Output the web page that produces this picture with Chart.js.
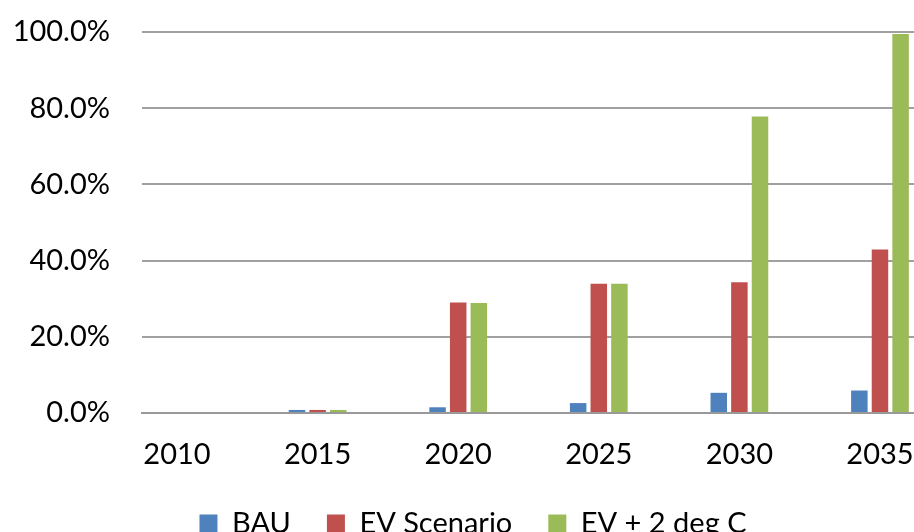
<!DOCTYPE html>
<html>
<head>
<meta charset="utf-8">
<script src="https://cdn.jsdelivr.net/npm/chart.js@4/dist/chart.umd.min.js"></script>
<style>
  html, body { margin: 0; padding: 0; background: #fff; overflow: hidden; }
  #wrap { position: relative; width: 914px; height: 548px; }
</style>
</head>
<body>
<div id="wrap"><canvas id="c"></canvas></div>
<script>
// ---- data ----
const years = [2010, 2015, 2020, 2025, 2030, 2035];
const seriesNames = ['BAU', 'EV Scenario', 'EV + 2 deg C'];
const bau = [0.000, 0.008, 0.015, 0.026, 0.053, 0.059];
const evScenario = [0.000, 0.008, 0.290, 0.339, 0.343, 0.429];
const ev2deg = [0.000, 0.008, 0.289, 0.339, 0.778, 0.995];
const yTicks = [0, 0.2, 0.4, 0.6, 0.8, 1.0];

const colors = ['#4F81BD', '#C0504D', '#9BBB59'];
const FONT = 'Lato, "Open Sans", sans-serif';

function pts(vals) { return years.map((y, i) => ({ x: y, y: vals[i] })); }

const datasets = [bau, evScenario, ev2deg].map((vals, i) => ({
  label: seriesNames[i],
  data: pts(vals),
  backgroundColor: colors[i],
  borderWidth: 0,
  categoryPercentage: 0.44,
  barPercentage: 0.8
}));

new Chart(document.getElementById('c'), {
  type: 'bar',
  data: { datasets },
  options: {
    responsive: true,
    maintainAspectRatio: false,
    animation: false,
    // the original legend is centred on a slightly wider chart than the picture shows
    layout: { padding: { left: 0, top: 0, right: -32, bottom: 0 } },
    scales: {
      x: {
        type: 'linear',
        offset: false,
        bounds: 'data',
        min: 2008.755,
        max: 2036.21,
        grid: { display: false, drawTicks: false, offset: false },
        border: { display: true, color: '#999999', width: 2 },
        afterBuildTicks: s => { s.ticks = years.map(v => ({ value: v })); },
        afterFit: s => { s.height = 60; s.paddingLeft = 0; s.paddingRight = -32; },
        ticks: {
          color: '#000',
          font: { family: FONT, size: 29 },
          padding: 24,
          autoSkip: false,
          maxRotation: 0,
          callback: v => String(v)
        }
      },
      y: {
        min: 0,
        max: 1,
        afterBuildTicks: s => { s.ticks = yTicks.map(v => ({ value: v })); },
        afterFit: s => { s.width = 142; s.paddingTop = 32; s.paddingBottom = 0; },
        grid: { color: '#a0a0a0', lineWidth: 2, drawTicks: false },
        border: { display: false },
        ticks: {
          color: '#000',
          font: { family: FONT, size: 29 },
          padding: 32,
          callback: v => (v * 100).toFixed(1) + '%'
        }
      }
    },
    plugins: {
      tooltip: { enabled: false },
      legend: {
        position: 'bottom',
        labels: {
          color: '#000',
          font: { family: FONT, size: 29 },
          boxWidth: 18,
          boxHeight: 18,
          padding: 36
        }
      }
    }
  }
});
</script>
</body>
</html>
